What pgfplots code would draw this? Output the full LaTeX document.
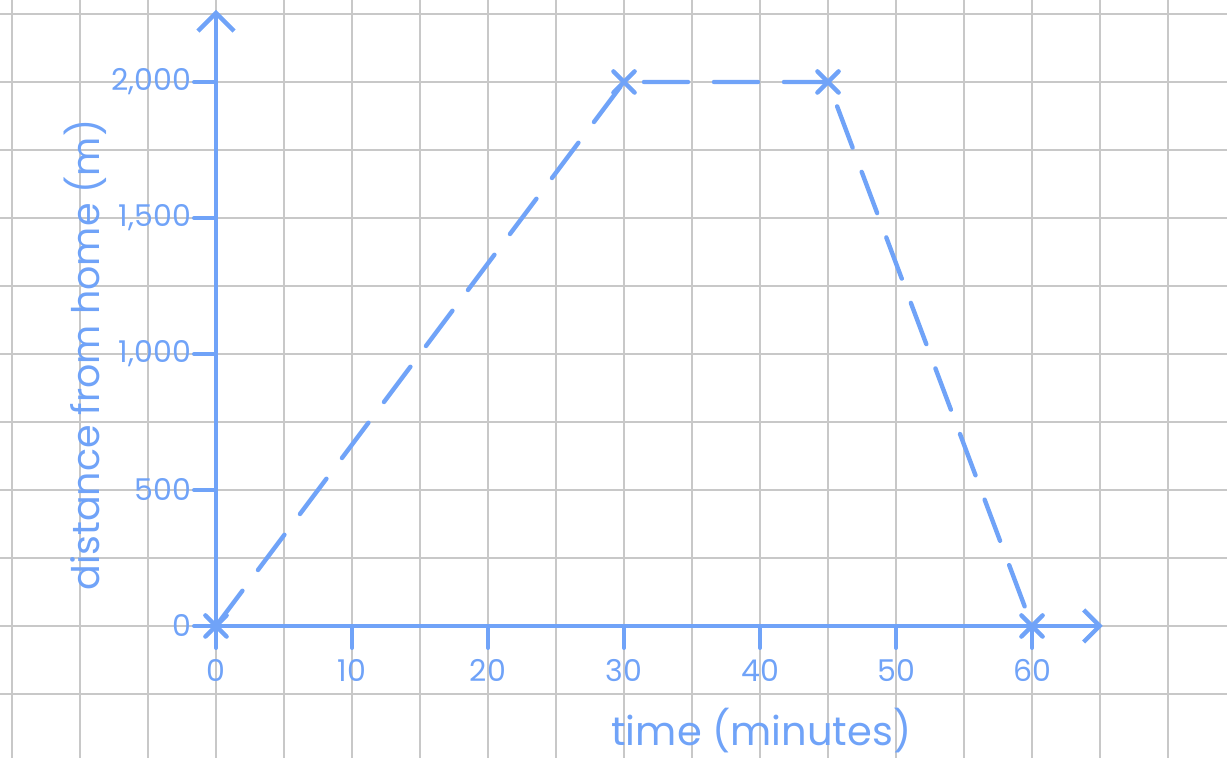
\documentclass[border=0pt]{standalone}
\usepackage{pgfplots}
\pgfplotsset{compat=1.18}
\usepackage{fontspec}
\setmainfont{Poppins}
\usetikzlibrary{arrows.meta}
\definecolor{pen}{RGB}{112,163,248}
\definecolor{paper}{RGB}{200,200,200}

\begin{document}
\begin{tikzpicture}
\begin{axis}[
  scale only axis, width=613.5pt, height=379pt,
  xmin=-15.882, xmax=74.338, ymin=-485.29, ymax=2301.47,
  axis lines=middle, axis line style={draw=none},
  hide obscured x ticks=false, hide obscured y ticks=false,
  xtick={0,10,...,60}, xticklabels={0,10,20,30,40,50,60},
  ytick={0,500,...,2000}, yticklabels={0,500,{1,000},{1,500},{2,000}},
  minor xtick={-15,-10,...,70}, minor ytick={-250,0,...,2250},
  grid=both,
  major grid style={paper, line width=1.35pt},
  minor grid style={paper, line width=1.35pt},
  tick align=outside, major tick length=11pt,
  major tick style={pen, line width=2pt, line cap=round},
  minor tick style={draw=none},
  xticklabel style={pen, font=\fontsize{15}{18}\selectfont, yshift=-2pt},
  yticklabel style={pen, font=\fontsize{15}{18}\selectfont, xshift=2pt},
  clip=false,
]
% the journey
\addplot[pen, line width=2.2pt, line cap=round, dash pattern=on 22pt off 13pt,
  mark=x, mark size=7.5pt, mark options={solid}]
  coordinates {(0,0) (30,2000) (45,2000) (60,0)};
% hand-drawn axes
\addplot[pen, line width=2.2pt, line cap=round, -{Straight Barb[length=8pt,width=16pt]}]
  coordinates {(-0.8,0) (65.2,0)};
\addplot[pen, line width=2.2pt, line cap=round, -{Straight Barb[length=9pt,width=18pt]}]
  coordinates {(0,0) (0,2265)};
\node[pen, font=\fontsize{20}{24}\selectfont] at (axis cs:40.1,-385) {time (minutes)};
\node[pen, rotate=90, font=\fontsize{19}{23}\selectfont] at (axis cs:-9.63,996) {distance from home (m)};
\end{axis}
\pgfresetboundingbox
\path[use as bounding box] (current axis.south west) rectangle (current axis.north east);
\end{tikzpicture}
\end{document}
